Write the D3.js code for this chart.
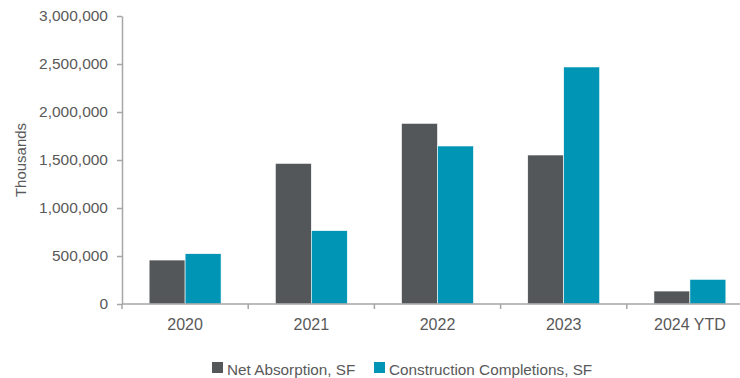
<!DOCTYPE html>
<html>
<head>
<meta charset="utf-8">
<script src="https://cdn.jsdelivr.net/npm/d3@7"></script>
<style>
  body { margin: 0; background: #fff; }
  svg text { font-family: "Liberation Sans", Arial, sans-serif; fill: #595959; }
  .axis path, .axis line { stroke: #a6a6a6; stroke-width: 1.5; }
</style>
</head>
<body>
<div id="chart"></div>
<script>
const categories = ["2020", "2021", "2022", "2023", "2024 YTD"];
const seriesNames = ["Net Absorption, SF", "Construction Completions, SF"];
const netAbsorption = [458000, 1465000, 1882000, 1552000, 135000];
const completions = [524000, 764000, 1646000, 2469000, 257000];
const yTicks = [0, 500000, 1000000, 1500000, 2000000, 2500000, 3000000];
const colors = ["#54575a", "#0095b5"];

const width = 740, height = 378;
const margin = { top: 16, left: 122, bottom: 74 };
const plotRight = 753; // axis runs a bit past the picture's right edge

const svg = d3.select("#chart").append("svg")
  .attr("width", width)
  .attr("height", height);

const y = d3.scaleLinear().domain([0, 3000000]).range([height - margin.bottom, margin.top]);

const x0 = d3.scaleBand().domain(categories)
  .range([margin.left, plotRight])
  .paddingInner(0.43)
  .paddingOuter(0.215);
const x1 = d3.scaleBand().domain(seriesNames).range([0, x0.bandwidth()]);

const rows = categories.map((c, i) => ({ cat: c, values: [netAbsorption[i], completions[i]] }));

// bars
const groups = svg.append("g").selectAll("g")
  .data(rows)
  .enter().append("g")
  .attr("transform", d => `translate(${x0(d.cat)},0)`);

groups.selectAll("rect")
  .data(d => d.values.map((v, k) => ({ name: seriesNames[k], value: v, k: k })))
  .enter().append("rect")
  .attr("x", d => x1(d.name))
  .attr("width", x1.bandwidth())
  .attr("y", d => y(d.value))
  .attr("height", d => y(0) - y(d.value))
  .attr("fill", d => colors[d.k])
  .attr("stroke", "#ffffff")
  .attr("stroke-width", 0.6);

// y axis
const yAxis = svg.append("g")
  .attr("class", "axis")
  .attr("transform", `translate(${margin.left},0)`)
  .call(d3.axisLeft(y).tickValues(yTicks).tickFormat(d3.format(",")).tickSize(5).tickSizeOuter(0).tickPadding(9));
yAxis.selectAll("text").style("font-size", "15.5px");

svg.append("text")
  .attr("transform", `translate(26,${(y(0) + y(3000000)) / 2}) rotate(-90)`)
  .attr("text-anchor", "middle")
  .style("font-size", "15px")
  .text("Thousands");

// x axis: labels at band centres, ticks at band boundaries
const xAxis = svg.append("g")
  .attr("class", "axis")
  .attr("transform", `translate(0,${y(0)})`)
  .call(d3.axisBottom(x0).tickSize(0).tickSizeOuter(0).tickPadding(13));
xAxis.select(".domain").attr("d", `M${margin.left},0H${plotRight}`);
xAxis.selectAll("text").style("font-size", "16px").attr("dy", "0.8em");

const boundaries = categories.map(c => x0(c) - x0.step() * x0.paddingInner() / 2);
boundaries.push(plotRight);
xAxis.selectAll(".bound")
  .data(boundaries)
  .enter().append("line")
  .attr("class", "bound")
  .attr("x1", d => d).attr("x2", d => d)
  .attr("y1", 0).attr("y2", 5);

// legend
const legend = svg.append("g").attr("transform", "translate(212,375)");
const legendX = [0, 162];
seriesNames.forEach((name, k) => {
  const g = legend.append("g").attr("transform", `translate(${legendX[k]},0)`);
  g.append("rect").attr("x", 0).attr("y", -13).attr("width", 11).attr("height", 11).attr("fill", colors[k]);
  g.append("text").attr("x", 15).attr("y", 0).style("font-size", "15.3px").text(name);
});
</script>
</body>
</html>
